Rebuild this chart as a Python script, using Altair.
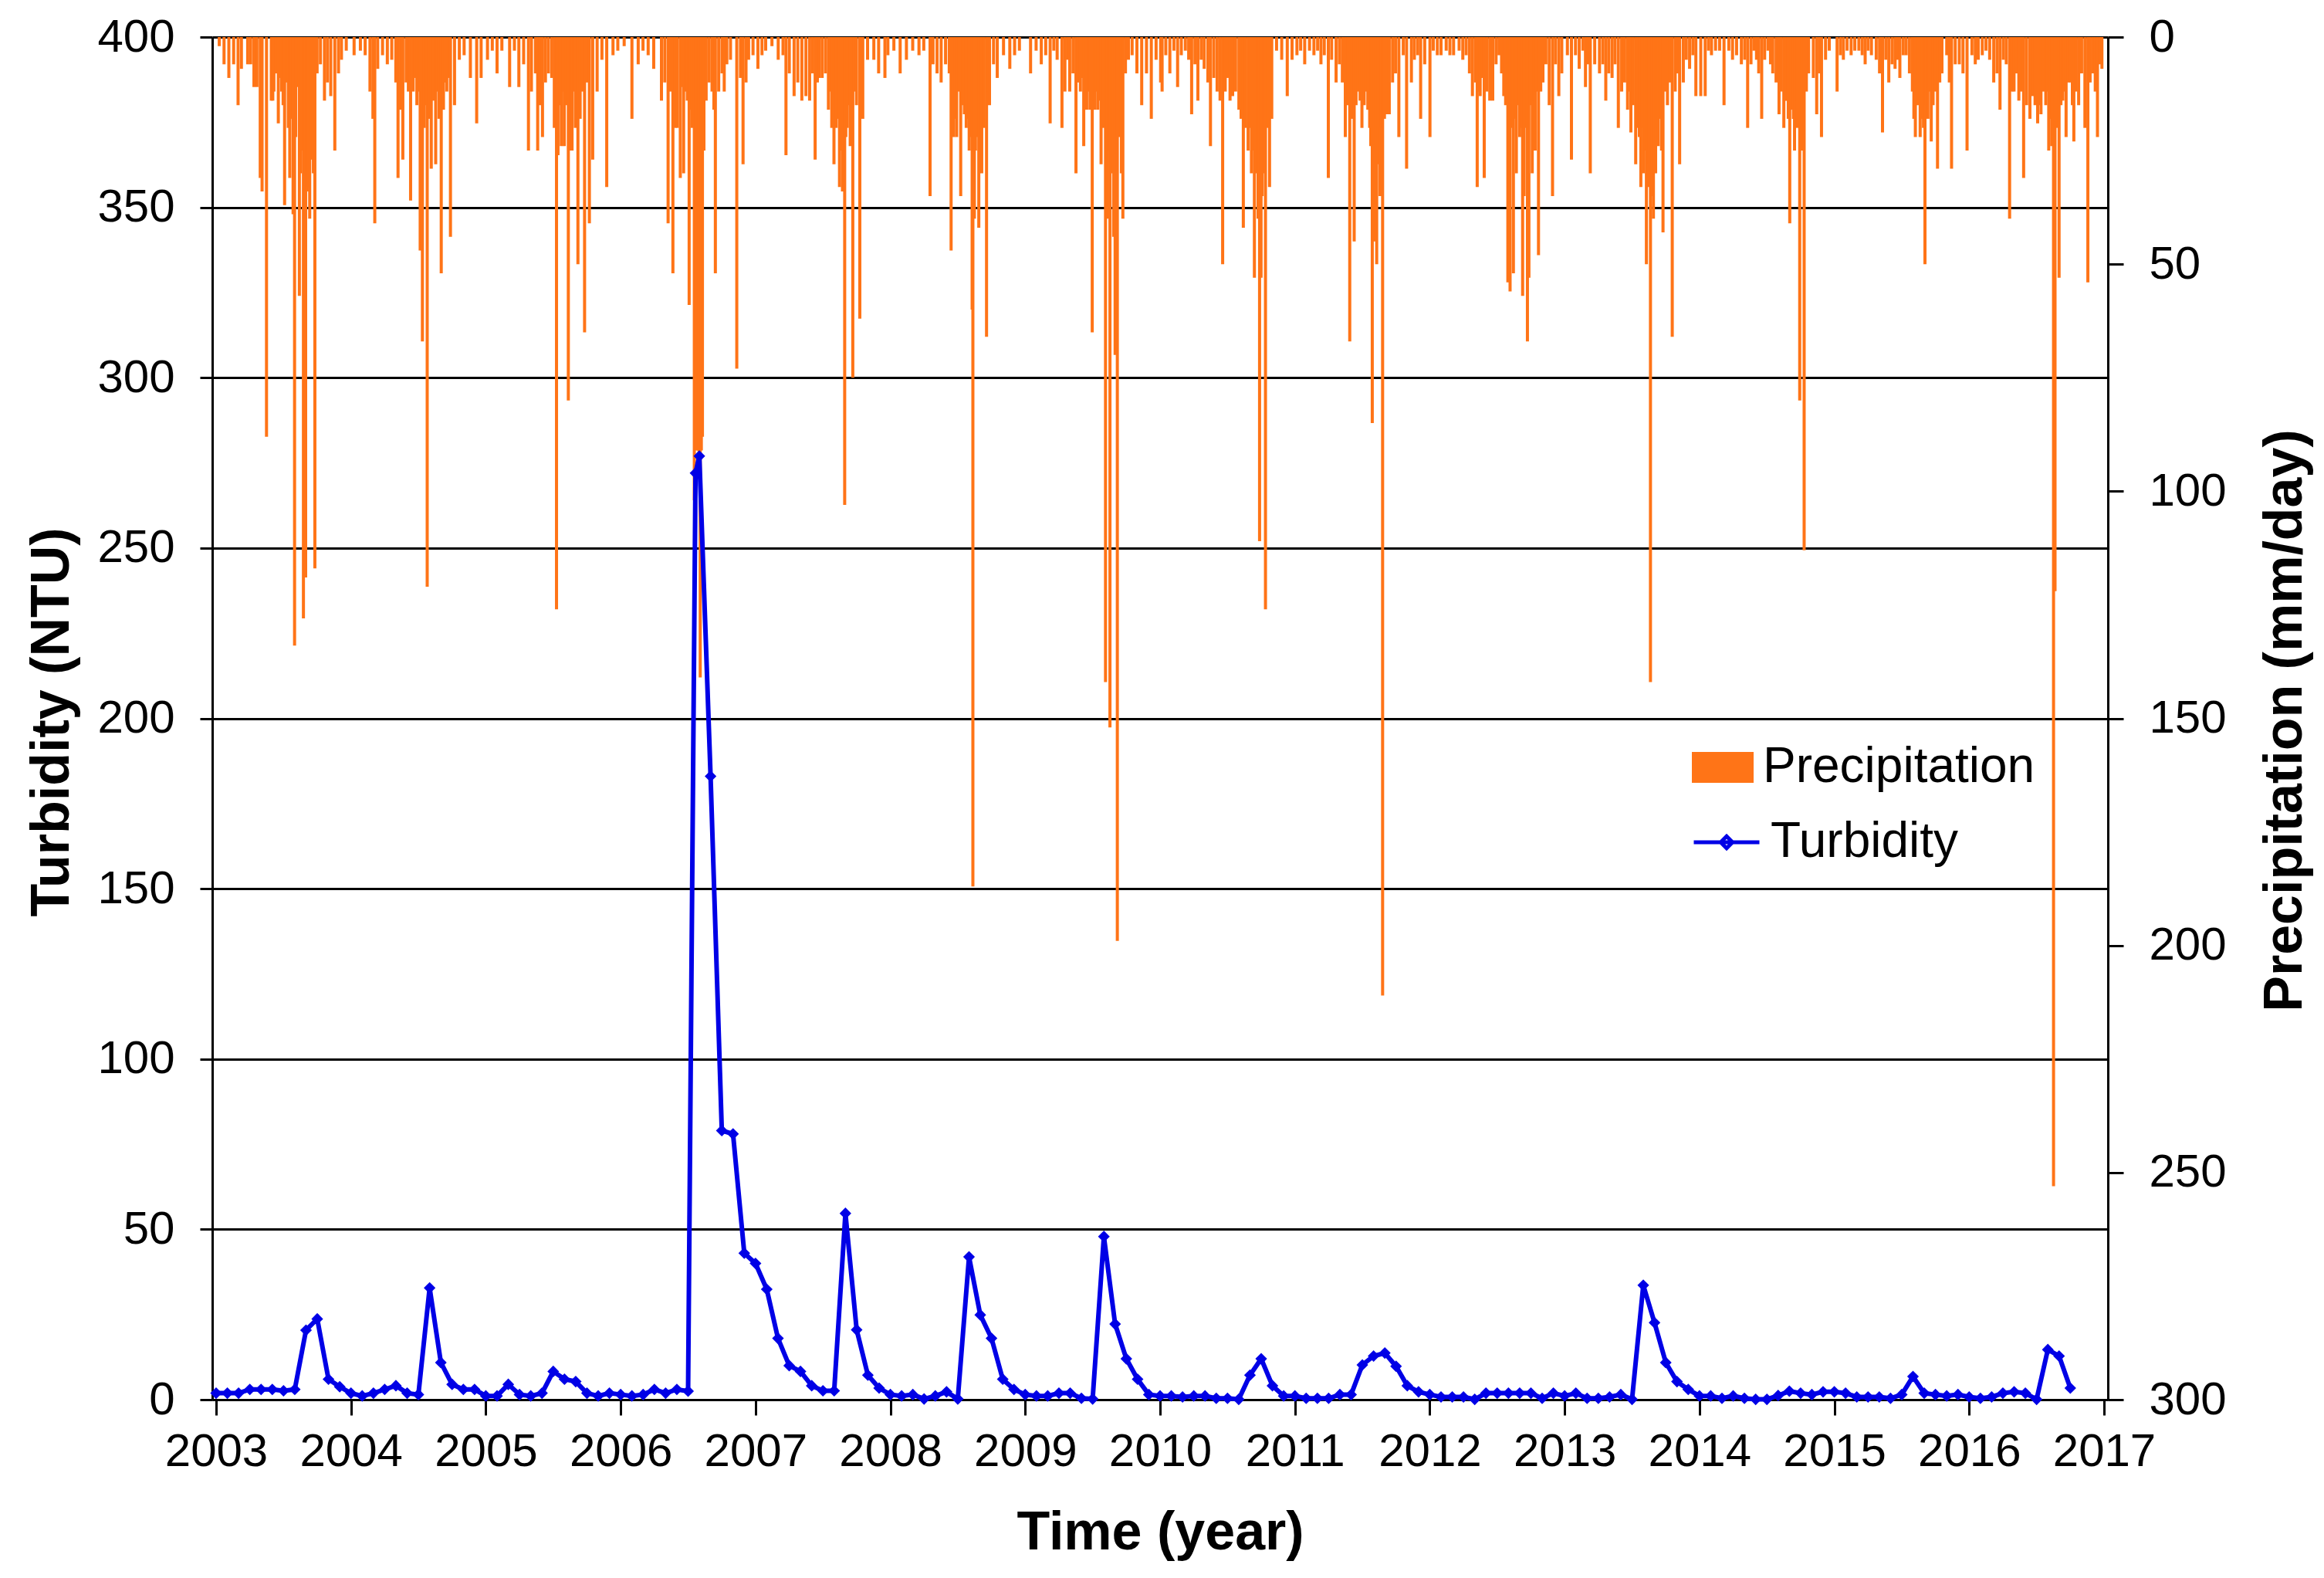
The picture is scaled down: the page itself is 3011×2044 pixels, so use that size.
import altair as alt
import pandas as pd

ORANGE = "#FF7417"
BLUE = "#0000E6"
FONT = "Liberation Sans"

# ---------------- Turbidity (NTU), monthly samples Jan..Dec ----------------
TURB_2003 = [1.9, 1.9, 1.9, 3.0, 3.0, 3.0, 2.6, 3.0, 20.4, 23.7, 6.0, 3.8]
TURB_2004 = [1.9, 1.1, 1.9, 3.0, 4.1, 1.9, 1.5, 32.8, 10.9, 4.5, 3.0, 3.0]
TURB_2005 = [1.1, 1.1, 4.5, 1.5, 1.1, 1.9, 8.3, 6.0, 5.3, 1.9, 1.1, 1.9]
TURB_2006 = [1.5, 1.1, 1.5, 3.0, 1.9, 3.0, 2.5, 277.0, 183.0, 79.0, 78.0, 43.0]
TURB_2007 = [40.0, 32.4, 18.0, 10.0, 8.3, 4.1, 2.6, 2.6, 54.7, 20.5, 7.2, 3.4]
TURB_2008 = [1.5, 1.1, 1.5, 0.2, 1.1, 2.3, 0.2, 41.9, 24.9, 18.0, 6.0, 3.0]
TURB_2009 = [1.5, 1.1, 1.1, 1.9, 1.9, 0.4, 0.2, 47.9, 22.2, 12.0, 6.0, 1.5]
TURB_2010 = [1.1, 1.1, 0.8, 1.1, 1.1, 0.4, 0.4, 0.1, 7.2, 12.0, 4.1, 1.1]
TURB_2011 = [1.1, 0.4, 0.4, 0.4, 1.5, 1.5, 10.2, 12.8, 13.7, 9.8, 4.1, 2.3]
TURB_2012 = [1.5, 0.8, 0.8, 0.8, 0.1, 1.9, 1.9, 1.9, 1.9, 1.9, 0.4, 1.9]
TURB_2013 = [1.1, 1.9, 0.4, 0.4, 0.8, 1.5, 0.1, 33.6, 22.6, 10.9, 5.3, 3.0]
TURB_2014 = [1.1, 1.1, 0.4, 1.1, 0.4, 0.1, 0.1, 1.2, 2.5, 1.9, 1.5, 2.3]
TURB_2015 = [2.3, 1.9, 0.8, 0.8, 0.8, 0.4, 1.5, 6.8, 1.9, 1.5, 1.1, 1.5]
TURB_2016 = [0.8, 0.4, 0.8, 1.9, 2.3, 1.9, 0.1, 14.7, 12.8, 3.4]
# extra (non-monthly) sample during the 2006 event: (decimal year, NTU)
TURB_EXTRA = [(2006.555, 272.0)]

# ---------------- Daily precipitation events (day of year, mm/day) ----------------
P2003 = [(9,2),(22,6),(35,9),(48,6),(60,15),(69,7),(86,6),(94,6),(103,11),(111,11),(120,31),(125,34),
         (137,88),(150,14),(154,14),(157,12),(162,8),(169,19),(174,9),(178,12),(182,15),(186,37),(192,10),
         (196,20),(200,31),(205,18),(209,39),(213,134),(216,22),(220,11),(226,57),(229,30),(232,25),
         (237,128),(240,40),(243,119),(247,34),(251,33),(254,40),(257,22),(260,27),(264,30),(268,117),
         (274,8),(283,6),(294,14),(302,10),(311,13),(322,25),(332,8),(340,5),(353,3)]
P2004 = [(9,4),(26,3),(39,4),(52,12),(60,18),(65,41),(73,7),(86,4),(99,6),(111,5),(122,10),(128,31),
         (135,16),(141,27),(150,10),(156,12),(162,36),(169,12),(174,9),(179,15),(184,12),(188,47),(194,67),
         (199,20),(203,15),(207,121),(212,18),(218,29),(223,14),(230,28),(234,12),(239,18),(245,52),
         (251,16),(255,10),(260,12),(265,9),(270,44),(281,15),(294,5),(307,4),(324,9),(341,19),(353,9)]
P2005 = [(5,5),(18,3),(31,8),(44,3),(65,11),(78,3),(90,11),(103,6),(116,25),(124,12),(135,8),(141,25),
         (147,15),(154,22),(162,10),(170,8),(179,9),(186,20),(192,126),(196,26),(201,15),(205,24),(209,12),
         (213,24),(219,15),(224,80),(230,25),(234,25),(239,12),(243,20),(250,50),(256,18),(262,12),(268,65),
         (274,10),(281,41),(290,27),(302,12),(315,5),(328,33),(345,4),(358,3)]
P2006 = [(10,2),(31,18),(48,6),(61,3),(75,4),(90,7),(111,14),(120,10),(129,41),(136,12),(142,52),(148,20),
         (154,20),(162,31),(167,11),(171,30),(177,12),(181,14),(186,59),(189,16),(194,20),(200,102),(204,80),
         (207,91),(210,91),(213,95),(216,141),(219,91),(222,88),(226,25),(232,14),(240,10),(248,12),(253,16),
         (257,52),(266,12),(275,8),(281,12),(288,6),(298,5),(315,73),(325,9),(332,28),(340,10),(347,5),(359,4)]
P2007 = [(7,7),(18,4),(28,3),(45,2),(62,5),(75,4),(83,26),(92,8),(105,13),(115,10),(126,14),(137,13),
         (147,14),(155,8),(162,27),(168,10),(173,9),(181,9),(190,8),(198,16),(203,12),(207,20),(213,28),
         (216,15),(219,20),(224,18),(228,33),(232,25),(236,34),(242,103),(245,22),(249,20),(253,15),(257,24),
         (264,75),(268,12),(274,15),(283,62),(291,18),(304,5),(321,5),(334,8),(351,9),(359,4)]
P2008 = [(10,3),(27,8),(44,5),(61,3),(78,4),(91,3),(108,35),(116,6),(127,8),(138,10),(150,6),(160,8),
         (165,47),(169,15),(172,22),(176,18),(180,22),(186,12),(191,35),(196,15),(201,17),(206,20),(210,18),
         (214,25),(218,22),(222,60),(224,187),(228,40),(231,25),(236,22),(240,42),(244,25),(248,30),(254,20),
         (261,66),(265,12),(269,15),(280,6),(290,9),(307,4),(324,7),(337,4),(350,3)]
P2009 = [(15,8),(30,3),(44,6),(56,4),(68,19),(78,3),(87,5),(100,20),(108,12),(115,5),(121,12),(130,8),
         (138,30),(144,10),(150,12),(155,9),(159,24),(163,14),(167,16),(172,12),(176,16),(182,65),(186,14),
         (189,16),(193,12),(197,16),(201,14),(206,28),(212,20),(218,142),(223,40),(227,25),(230,152),(235,30),
         (240,44),(244,70),(250,199),(255,22),(261,30),(265,40),(272,8),(280,5),(290,4),(303,8),(316,15),
         (329,8),(342,18),(355,5)]
P2010 = [(2,10),(6,12),(16,4),(27,8),(38,3),(48,11),(58,4),(69,3),(78,5),(86,17),(95,6),(103,14),(112,5),
         (120,7),(130,10),(137,24),(146,9),(155,12),(163,14),(170,50),(177,12),(184,9),(190,14),(197,13),
         (205,12),(214,16),(220,18),(226,42),(232,20),(239,25),(244,20),(248,30),(252,25),(256,53),(262,30),
         (266,40),(270,111),(274,53),(277,35),(282,30),(286,126),(292,20),(297,33),(303,18),(316,3),(330,5),
         (345,13),(358,5)]
P2011 = [(6,4),(16,3),(27,6),(40,3),(52,4),(62,3),(71,6),(80,4),(91,31),(100,5),(112,10),(121,6),(129,10),
         (137,22),(141,12),(144,15),(149,67),(155,18),(161,45),(166,15),(171,12),(177,14),(182,20),(188,15),
         (193,12),(198,16),(203,20),(206,24),(210,85),(213,30),(216,45),(219,25),(222,50),(226,28),(231,35),
         (234,20),(238,211),(243,18),(248,17),(252,12),(256,17),(265,10),(273,8),(282,22),(294,4),(303,29),
         (316,10),(324,5),(333,4),(341,18),(352,6)]
P2012 = [(1,22),(10,3),(21,4),(31,4),(45,3),(55,4),(65,4),(80,3),(90,5),(99,4),(108,8),(116,13),(124,10),
         (129,33),(133,12),(137,13),(143,9),(148,31),(155,12),(163,14),(171,14),(180,6),(188,4),(195,8),
         (201,13),(206,15),(212,54),(215,25),(218,56),(222,20),(227,52),(231,18),(235,30),(240,15),(244,22),
         (248,20),(252,57),(256,35),(260,20),(265,67),(269,53),(273,15),(278,30),(282,14),(286,25),(290,12),
         (295,48),(301,12),(307,10),(315,6),(324,15),(333,35),(341,6),(350,13),(358,8)]
P2013 = [(8,4),(19,27),(30,4),(40,7),(50,3),(57,11),(64,6),(70,30),(82,6),(95,8),(104,6),(112,14),(120,8),
         (129,9),(137,6),(146,20),(155,12),(163,10),(171,16),(176,12),(180,21),(186,15),(193,28),(198,20),
         (203,22),(207,33),(211,20),(214,30),(218,25),(222,50),(226,33),(230,28),(233,142),(237,35),(241,40),
         (244,25),(247,30),(251,20),(254,24),(259,18),(263,25),(267,43),(272,12),(279,15),(285,10),(292,66),
         (300,12),(306,8),(312,28),(322,10),(330,5),(339,7),(348,4),(356,13)]
P2014 = [(4,13),(16,13),(25,3),(33,4),(44,3),(55,3),(67,15),(80,3),(90,5),(101,4),(114,6),(123,5),(131,20),
         (140,6),(148,3),(155,5),(161,8),(169,18),(177,5),(186,3),(193,6),(199,8),(208,10),(216,17),(222,12),
         (229,20),(233,14),(237,14),(241,18),(245,41),(249,16),(252,14),(255,18),(258,25),(262,14),(266,20),
         (272,80),(277,25),(284,113),(290,12),(296,8),(309,9),(318,17),(325,8),(331,22),(342,5),(352,3)]
P2015 = [(8,12),(17,4),(25,5),(35,3),(46,4),(56,3),(67,3),(76,4),(84,6),(92,3),(101,4),(114,5),(123,8),
         (131,21),(140,5),(148,10),(157,6),(165,7),(172,5),(178,9),(187,4),(195,4),(204,8),(212,12),(216,18),
         (220,22),(226,15),(233,22),(238,18),(242,20),(246,50),(250,15),(254,18),(258,12),(263,23),(268,15),
         (274,12),(280,29),(286,10),(292,8),(305,4),(312,10),(318,29),(328,6),(339,6),(349,8),(360,25)]
P2016 = [(8,4),(17,6),(25,5),(36,4),(46,3),(56,5),(67,10),(76,8),(84,16),(93,5),(101,6),(110,40),(116,12),
         (122,12),(129,8),(135,14),(142,12),(148,31),(156,15),(165,18),(169,12),(173,13),(179,15),(186,19),
         (191,15),(195,17),(201,12),(208,15),(212,12),(216,25),(220,18),(224,24),(229,253),(233,122),(238,20),
         (244,53),(249,15),(254,14),(258,12),(263,22),(269,10),(275,10),(280,15),(284,23),(290,12),(297,15),
         (305,8),(314,20),(322,54),(328,10),(335,8),(342,12),(348,22),(355,6),(360,7)]

YEARS_X = list(range(2003, 2018))
TURB_TICKS = list(range(0, 401, 50))
PREC_TICKS = list(range(0, 301, 50))

# ---------------- build tables ----------------
turb_by_year = {2003: TURB_2003, 2004: TURB_2004, 2005: TURB_2005, 2006: TURB_2006, 2007: TURB_2007,
                2008: TURB_2008, 2009: TURB_2009, 2010: TURB_2010, 2011: TURB_2011, 2012: TURB_2012,
                2013: TURB_2013, 2014: TURB_2014, 2015: TURB_2015, 2016: TURB_2016}
trows = []
for yr, vals in turb_by_year.items():
    for m, v in enumerate(vals):
        trows.append({"t": yr + m / 12.0, "turb": v, "series": "Turbidity"})
for t, v in TURB_EXTRA:
    trows.append({"t": t, "turb": v, "series": "Turbidity"})
df_t = pd.DataFrame(trows).sort_values("t")

prec_by_year = {2003: P2003, 2004: P2004, 2005: P2005, 2006: P2006, 2007: P2007, 2008: P2008,
                2009: P2009, 2010: P2010, 2011: P2011, 2012: P2012, 2013: P2013, 2014: P2014,
                2015: P2015, 2016: P2016}
prows = []
for yr, evs in prec_by_year.items():
    for d, mm in evs:
        prows.append({"t": yr + (d - 0.5) / 365.25, "mm": mm, "zero": 0, "series": "Precipitation"})
df_p = pd.DataFrame(prows)

x_scale = alt.Scale(domain=[2003, 2017], nice=False, zero=False)
turb_scale = alt.Scale(domain=[0, 400], nice=False)

x_axis = alt.Axis(values=YEARS_X, format="d", tickSize=20, tickWidth=3, domainWidth=3,
                  labelFontSize=60, labelPadding=18, labelFlush=False, labelOverlap=False,
                  grid=False, title="Time (year)", titleFontSize=70, titleFontWeight="bold",
                  titleY=172, titleBaseline="middle")

right_axis = alt.Axis(orient="right", values=PREC_TICKS, tickSize=20, tickWidth=3, domainWidth=3,
                      labelFontSize=60, labelPadding=33, labelFlush=False, labelOverlap=False,
                      grid=False, title="Precipitation (mm/day)", titleFontSize=70,
                      titleFontWeight="bold", titleAngle=270, titleX=229, titleY=885,
                      titleBaseline="middle", titleAlign="center")

left_axis = alt.Axis(orient="left", values=TURB_TICKS, tickSize=16, tickWidth=3, domainWidth=3,
                     grid=True, gridColor="black", gridWidth=3, gridOpacity=1,
                     labelFontSize=60, labelPadding=33, labelFlush=False, labelOverlap=False,
                     title="Turbidity (NTU)", titleFontSize=70, titleFontWeight="bold",
                     titleAngle=270, titleX=-208, titleY=887, titleBaseline="middle",
                     titleAlign="center")

prec = alt.Chart(df_p).mark_bar(size=4).encode(
    x=alt.X("t:Q", scale=x_scale, axis=x_axis),
    y=alt.Y("zero:Q", scale=alt.Scale(domain=[0, 300], reverse=True, nice=False), axis=right_axis),
    y2="mm:Q",
    color=alt.Color("series:N", scale=alt.Scale(domain=["Precipitation"], range=[ORANGE]),
                    legend=alt.Legend(title=None, orient="none", legendX=1917, legendY=906,
                                      symbolType="M-1,-0.5H1V0.5H-1Z", symbolSize=6400,
                                      symbolStrokeWidth=0, labelFontSize=64, labelOffset=12,
                                      labelLimit=0, labelFont=FONT, labelColor="black", padding=0)),
)

turb_line = alt.Chart(df_t).mark_line(strokeWidth=6).encode(
    x=alt.X("t:Q", scale=x_scale, axis=x_axis),
    y=alt.Y("turb:Q", scale=turb_scale, axis=left_axis),
    stroke=alt.Stroke("series:N", scale=alt.Scale(domain=["Turbidity"], range=[BLUE]),
                      legend=alt.Legend(title=None, orient="none", legendX=1917, legendY=998,
                                        symbolType="M-1,0H1M-0.18,0L0,-0.18L0.18,0L0,0.18Z",
                                        symbolSize=7225, symbolStrokeWidth=5,
                                        labelFontSize=64, labelOffset=12, labelLimit=0,
                                        labelFont=FONT, labelColor="black", padding=0)),
)

turb_pts = alt.Chart(df_t).mark_point(shape="diamond", filled=True, size=230, color=BLUE, opacity=1).encode(
    x=alt.X("t:Q", scale=x_scale, axis=x_axis),
    y=alt.Y("turb:Q", scale=turb_scale, axis=left_axis),
)

turb = alt.layer(turb_line, turb_pts)

chart = alt.layer(prec, turb).resolve_scale(y="independent").properties(
    width=2456, height=1765,
    autosize=alt.AutoSizeParams(type="none"),
    padding={"left": 267, "top": 40, "right": 272, "bottom": 223},
    background="white",
).configure_axis(
    domainColor="black", tickColor="black", labelColor="black", titleColor="black",
    labelFont=FONT, titleFont=FONT,
).configure_view(stroke=None)

chart.save("out.html", embed_options={"renderer": "svg", "actions": False})
